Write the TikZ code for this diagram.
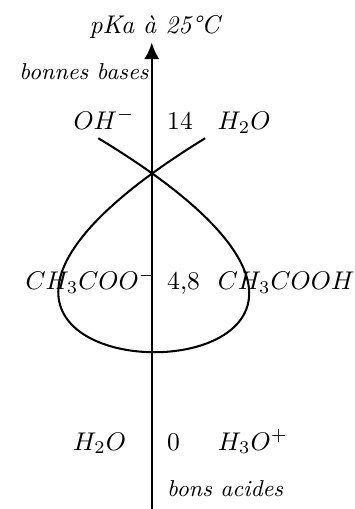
\documentclass[tikz,border=0pt]{standalone}
\usepackage{tikz}
\usetikzlibrary{arrows.meta}
\tikzset{
  axe/.style={-{Latex[length=6.5pt,width=6pt]}, thick},
  boucle/.style={thick},
  txt/.style={inner sep=0pt, anchor=base west},
  remarque/.style={txt, font=\small\itshape}
}

\begin{document}
\begin{tikzpicture}
\useasboundingbox (-2.087,0) rectangle (2.783,7.0);
\coordinate (bas) at (0,0);
\coordinate (haut) at (0,6.414);
\draw[axe] (bas)--(haut);

\node[txt] (titre) at (-0.862,6.543) {\textit{pKa à 25°C}};
\node[remarque] (bases) at (-1.826,5.90) {bonnes bases};
\node[remarque] (acides) at (0.206,0.17) {bons acides};

\node[txt] (oh) at (-1.082,5.223) {$OH^-$};
\node[txt] (pk14) at (0.206,5.223) {14};
\node[txt] (eau1) at (0.898,5.223) {$H_2O$};

\node[txt] (acetate) at (-1.742,3.012) {$CH_3COO^-$};
\node[txt] (pk48) at (0.206,3.012) {4,8};
\node[txt] (acide) at (0.902,3.012) {$CH_3COOH$};

\node[txt] (eau2) at (-1.087,0.81) {$H_2O$};
\node[txt] (pk0) at (0.206,0.81) {0};
\node[txt] (oxo) at (0.902,0.81) {$H_3O^+$};

% boucle des couples
\coordinate (g1) at (-0.735,5.099);
\coordinate (g2) at (0.735,5.099);
\draw[boucle] (g1) .. controls (5.76,1.175) and (-5.66,1.175) .. (g2);
\end{tikzpicture}
\end{document}
